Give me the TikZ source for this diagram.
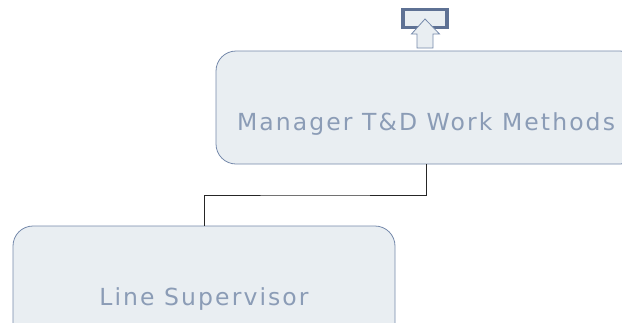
\documentclass[tikz,border=0pt]{standalone}
\usepackage{fontspec}
\setmainfont{DejaVu Sans}
\definecolor{boxfill}{HTML}{E9EEF2}
\definecolor{boxline}{HTML}{7589AB}
\definecolor{boxtext}{HTML}{8B9CB6}
\definecolor{icon}{HTML}{5E7194}
\begin{document}
\begin{tikzpicture}[x=1pt,y=-1pt,
  orgbox/.style={draw=boxline,fill=boxfill,line width=0.8pt,rounded corners=20pt},
  lbl/.style={text=boxtext,font=\fontsize{23.5}{27}\selectfont\addfontfeatures{LetterSpace=8.9},inner sep=0pt,anchor=base},
  conn/.style={draw=black!85,line width=0.9pt}]
\useasboundingbox (0,0) rectangle (622,322);
\begin{scope}
\clip (0,0) rectangle (622,322);
\draw[orgbox] (216,51) rectangle (640,164);
\draw[orgbox] (13,226) rectangle (395,345);
\end{scope}
\coordinate (mgrtop) at (426,51);
\coordinate (mgrbot) at (426,164);
\coordinate (suptop) at (204,226);
\node[lbl] (mgr) at (426,130.5) {Manager T\&D Work Methods};
\node[lbl] (sup) at (204,305) {Line Supervisor};
\draw[conn] (mgrbot) |- (315,195) -| (suptop);
\draw[icon,line width=3.5pt,fill=boxfill] (403,9.5) rectangle (447,27.5);
\draw[boxline,fill=boxfill,line width=0.8pt,line join=miter] (417,48) -- (417,34) -- (411.5,34) -- (425,19) -- (439.5,34) -- (433,34) -- (433,48) -- cycle;
\end{tikzpicture}
\end{document}
